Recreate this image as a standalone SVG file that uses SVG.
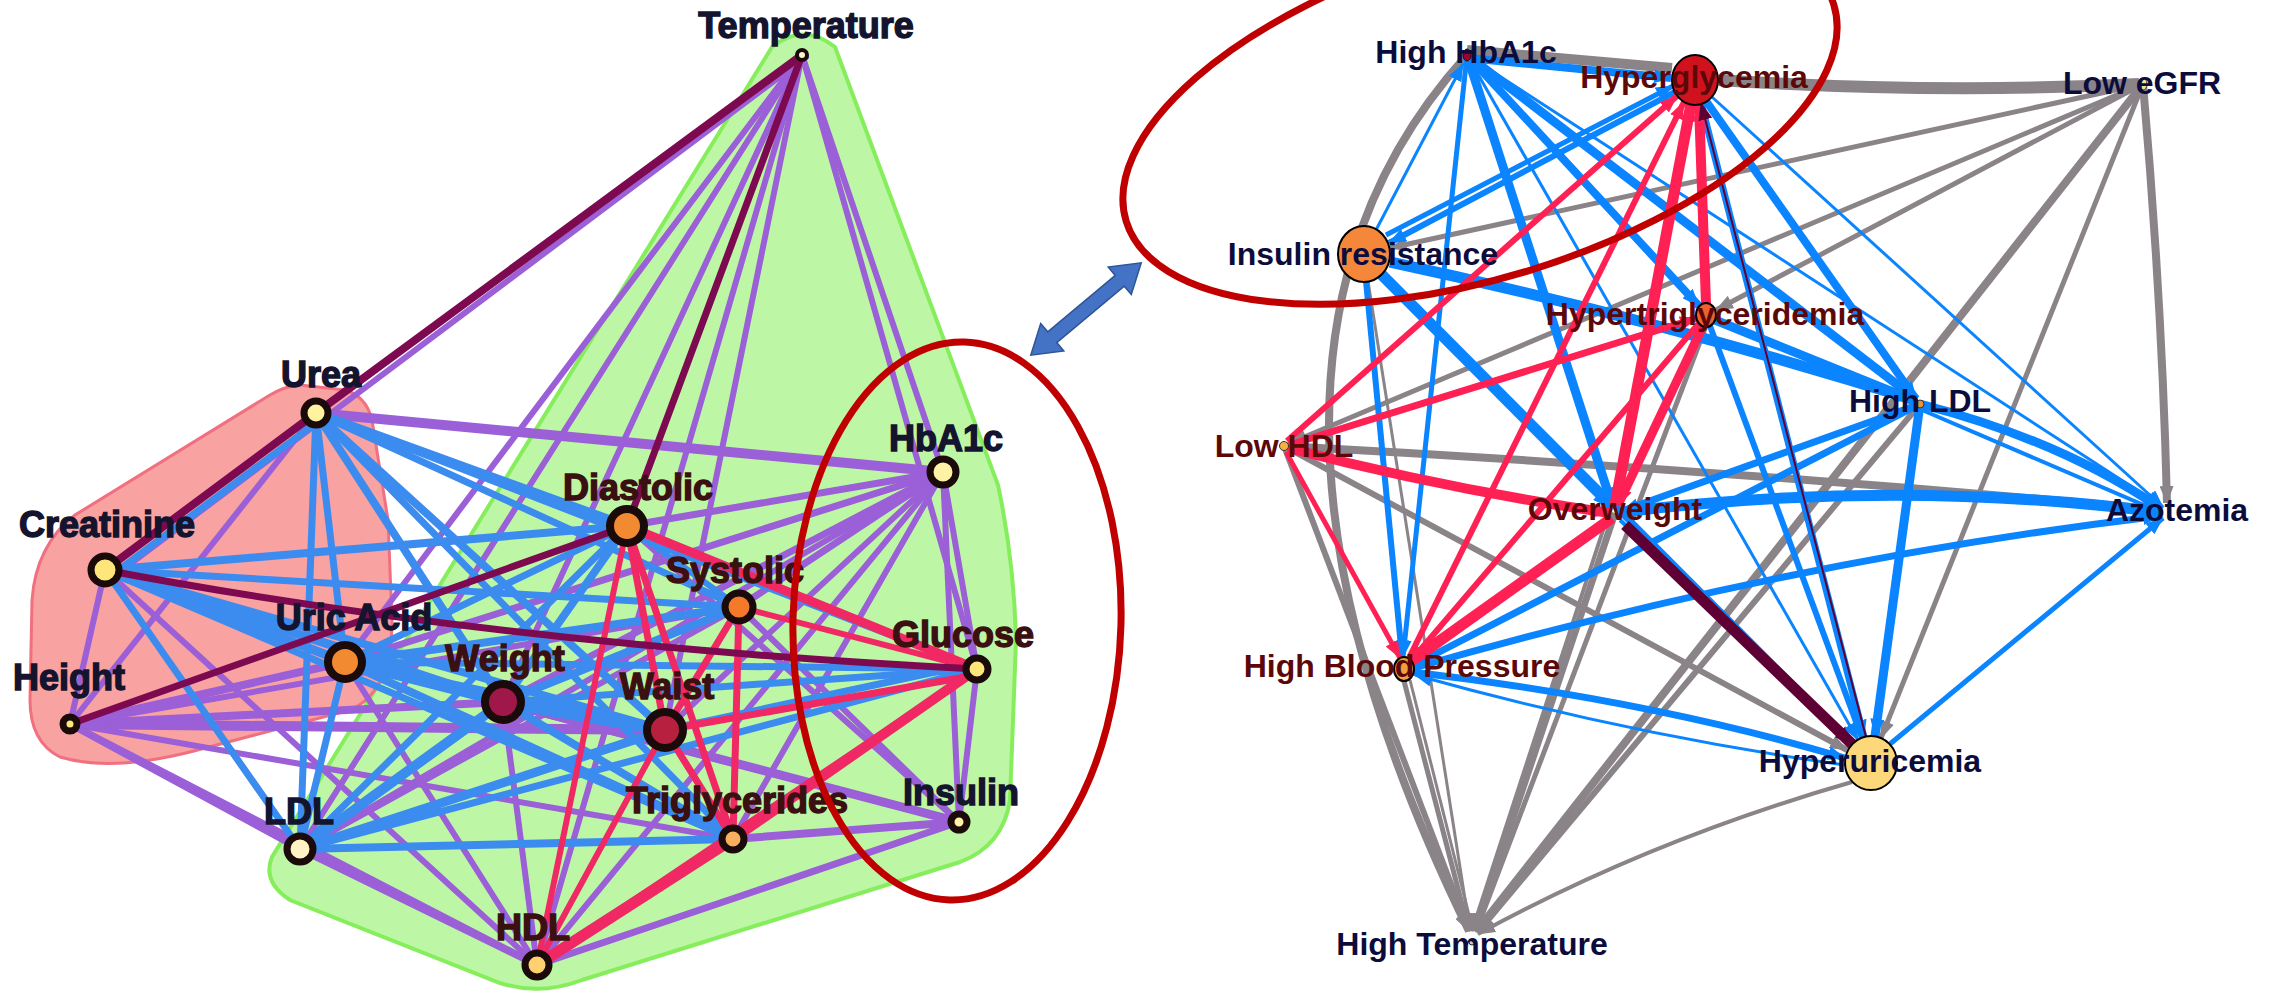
<svg xmlns="http://www.w3.org/2000/svg" width="2274" height="991" viewBox="0 0 2274 991">
<style>
.lp{stroke:#9b5fd7;fill:none;stroke-linecap:round}
.lb{stroke:#3c8cf0;fill:none;stroke-linecap:round}
.lr{stroke:#f02864;fill:none;stroke-linecap:round}
.lm{stroke:#7d0a50;fill:none;stroke-linecap:round}
.g{stroke:#8a8488;fill:none;marker-end:url(#ah-g)}
.b{stroke:#0a84ff;fill:none;marker-end:url(#ah-b)}
.r{stroke:#ff2153;fill:none;marker-end:url(#ah-r)}
.m{stroke:#5f0035;fill:none;marker-end:url(#ah-m)}
.ln{stroke:#1a0a0a}
.tl{font-family:"Liberation Sans",Arial,Helvetica,sans-serif;font-weight:bold;font-size:36px;text-anchor:middle;stroke-width:1.4}
.tn{fill:#14142e;stroke:#14142e}
.tbr{fill:#3a1010;stroke:#3a1010}
.tr{font-family:"Liberation Sans",Arial,Helvetica,sans-serif;font-weight:bold;font-size:32px;text-anchor:middle}
.rn{fill:#0c0c3c}
.rd{fill:#5c0808}
.rnode{stroke:#000;stroke-width:2}
</style>
<defs>
<marker id="ah-g" viewBox="0 0 18 14" refX="17" refY="7" markerWidth="18" markerHeight="14" markerUnits="userSpaceOnUse" orient="auto"><path d="M0,0 L18,7 L0,14 z" fill="#8a8488"/></marker>
<marker id="ah-b" viewBox="0 0 18 14" refX="17" refY="7" markerWidth="18" markerHeight="14" markerUnits="userSpaceOnUse" orient="auto"><path d="M0,0 L18,7 L0,14 z" fill="#0a84ff"/></marker>
<marker id="ah-r" viewBox="0 0 18 14" refX="17" refY="7" markerWidth="18" markerHeight="14" markerUnits="userSpaceOnUse" orient="auto"><path d="M0,0 L18,7 L0,14 z" fill="#ff2153"/></marker>
<marker id="ah-m" viewBox="0 0 18 14" refX="17" refY="7" markerWidth="18" markerHeight="14" markerUnits="userSpaceOnUse" orient="auto"><path d="M0,0 L18,7 L0,14 z" fill="#5f0035"/></marker>
</defs>
<rect width="2274" height="991" fill="#ffffff"/>

<!-- cluster hulls -->
<path id="hull-green" d="M772,47 L272,857 Q262,882 290,900 L500,983 Q540,996 582,980 L960,862 Q1003,846 1010,800 L1016,640 Q1014,560 998,485 L835,47 Q803,22 772,47 Z" fill="#bdf7a6" stroke="#86ee5c" stroke-width="4"/>
<path id="hull-red" d="M300,385 L345,390 Q366,396 372,420 L388,520 L392,620 Q392,692 350,710 L190,752 Q110,772 60,757 Q30,742 30,700 L32,600 Q36,545 75,515 L270,395 Q285,386 300,385 Z" fill="#f8a2a2" stroke="#f07080" stroke-width="3"/>

<g id="connectors-left">
<!-- purple -->
<line class="lp" x1="806" y1="57" x2="114" y2="576" stroke-width="6"/>
<line class="lp" x1="802" y1="55" x2="345" y2="662" stroke-width="6"/>
<line class="lp" x1="802" y1="55" x2="300" y2="849" stroke-width="6"/>
<line class="lp" x1="802" y1="55" x2="503" y2="702" stroke-width="6"/>
<line class="lp" x1="802" y1="55" x2="537" y2="965" stroke-width="6"/>
<line class="lp" x1="802" y1="55" x2="665" y2="730" stroke-width="6"/>
<line class="lp" x1="802" y1="55" x2="977" y2="669" stroke-width="6"/>
<line class="lp" x1="802" y1="55" x2="943" y2="472" stroke-width="6"/>
<line class="lp" x1="316" y1="413" x2="943" y2="472" stroke-width="10"/>
<line class="lp" x1="316" y1="413" x2="70" y2="724" stroke-width="6"/>
<line class="lp" x1="105" y1="570" x2="70" y2="724" stroke-width="6"/>
<line class="lp" x1="105" y1="570" x2="537" y2="965" stroke-width="6"/>
<line class="lp" x1="70" y1="724" x2="665" y2="730" stroke-width="10"/>
<line class="lp" x1="70" y1="724" x2="503" y2="702" stroke-width="8"/>
<line class="lp" x1="70" y1="724" x2="345" y2="662" stroke-width="8"/>
<line class="lp" x1="70" y1="724" x2="739" y2="607" stroke-width="6"/>
<line class="lp" x1="70" y1="724" x2="733" y2="839" stroke-width="6"/>
<line class="lp" x1="70" y1="724" x2="300" y2="849" stroke-width="7"/>
<line class="lp" x1="70" y1="724" x2="537" y2="965" stroke-width="7"/>
<line class="lp" x1="300" y1="849" x2="537" y2="965" stroke-width="7"/>
<line class="lp" x1="300" y1="849" x2="739" y2="607" stroke-width="6"/>
<line class="lp" x1="943" y1="472" x2="627" y2="526" stroke-width="7"/>
<line class="lp" x1="943" y1="472" x2="739" y2="607" stroke-width="7"/>
<line class="lp" x1="943" y1="472" x2="503" y2="702" stroke-width="7"/>
<line class="lp" x1="943" y1="472" x2="665" y2="730" stroke-width="6"/>
<line class="lp" x1="943" y1="472" x2="977" y2="669" stroke-width="6"/>
<line class="lp" x1="943" y1="472" x2="959" y2="822" stroke-width="6"/>
<line class="lp" x1="943" y1="472" x2="733" y2="839" stroke-width="6"/>
<line class="lp" x1="943" y1="472" x2="537" y2="965" stroke-width="6"/>
<line class="lp" x1="943" y1="472" x2="300" y2="849" stroke-width="6"/>
<line class="lp" x1="943" y1="472" x2="345" y2="662" stroke-width="7"/>
<line class="lp" x1="977" y1="669" x2="959" y2="822" stroke-width="6"/>
<line class="lp" x1="959" y1="822" x2="733" y2="839" stroke-width="8"/>
<line class="lp" x1="959" y1="822" x2="537" y2="965" stroke-width="7"/>
<line class="lp" x1="959" y1="822" x2="503" y2="702" stroke-width="9"/>
<line class="lp" x1="959" y1="822" x2="627" y2="526" stroke-width="6"/>
<line class="lp" x1="959" y1="822" x2="739" y2="607" stroke-width="6"/>
<line class="lp" x1="959" y1="822" x2="345" y2="662" stroke-width="7"/>
<line class="lp" x1="503" y1="702" x2="537" y2="965" stroke-width="6"/>
<line class="lp" x1="345" y1="662" x2="537" y2="965" stroke-width="6"/>
<!-- blue -->
<line class="lb" x1="320" y1="420" x2="112" y2="575" stroke-width="7"/>
<line class="lb" x1="316" y1="413" x2="345" y2="662" stroke-width="7"/>
<line class="lb" x1="316" y1="413" x2="300" y2="849" stroke-width="7"/>
<line class="lb" x1="316" y1="413" x2="503" y2="702" stroke-width="8"/>
<line class="lb" x1="316" y1="413" x2="627" y2="526" stroke-width="9"/>
<line class="lb" x1="316" y1="413" x2="739" y2="607" stroke-width="7"/>
<line class="lb" x1="316" y1="413" x2="665" y2="730" stroke-width="8"/>
<line class="lb" x1="316" y1="413" x2="733" y2="839" stroke-width="7"/>
<line class="lb" x1="316" y1="413" x2="977" y2="669" stroke-width="6"/>
<line class="lb" x1="105" y1="570" x2="627" y2="526" stroke-width="8"/>
<line class="lb" x1="105" y1="570" x2="739" y2="607" stroke-width="7"/>
<line class="lb" x1="105" y1="570" x2="503" y2="702" stroke-width="9"/>
<line class="lb" x1="105" y1="570" x2="665" y2="730" stroke-width="8"/>
<line class="lb" x1="105" y1="570" x2="345" y2="662" stroke-width="9"/>
<line class="lb" x1="105" y1="570" x2="733" y2="839" stroke-width="7"/>
<line class="lb" x1="105" y1="570" x2="300" y2="849" stroke-width="7"/>
<line class="lb" x1="345" y1="662" x2="627" y2="526" stroke-width="7"/>
<line class="lb" x1="345" y1="662" x2="739" y2="607" stroke-width="8"/>
<line class="lb" x1="345" y1="662" x2="503" y2="702" stroke-width="10"/>
<line class="lb" x1="345" y1="662" x2="665" y2="730" stroke-width="9"/>
<line class="lb" x1="345" y1="662" x2="977" y2="669" stroke-width="7"/>
<line class="lb" x1="345" y1="662" x2="733" y2="839" stroke-width="8"/>
<line class="lb" x1="345" y1="662" x2="300" y2="849" stroke-width="7"/>
<line class="lb" x1="503" y1="702" x2="627" y2="526" stroke-width="8"/>
<line class="lb" x1="503" y1="702" x2="739" y2="607" stroke-width="8"/>
<line class="lb" x1="503" y1="702" x2="665" y2="730" stroke-width="12"/>
<line class="lb" x1="503" y1="702" x2="977" y2="669" stroke-width="7"/>
<line class="lb" x1="503" y1="702" x2="733" y2="839" stroke-width="8"/>
<line class="lb" x1="503" y1="702" x2="300" y2="849" stroke-width="10"/>
<line class="lb" x1="300" y1="849" x2="627" y2="526" stroke-width="7"/>
<line class="lb" x1="300" y1="849" x2="977" y2="669" stroke-width="7"/>
<line class="lb" x1="300" y1="849" x2="733" y2="839" stroke-width="8"/>
<line class="lb" x1="300" y1="849" x2="665" y2="730" stroke-width="9"/>
<line class="lb" x1="665" y1="730" x2="977" y2="663" stroke-width="7"/>
<line class="lb" x1="627" y1="526" x2="739" y2="607" stroke-width="6"/>
<!-- pink -->
<line class="lr" x1="627" y1="526" x2="665" y2="730" stroke-width="7"/>
<line class="lr" x1="627" y1="526" x2="733" y2="839" stroke-width="7"/>
<line class="lr" x1="627" y1="526" x2="977" y2="669" stroke-width="9"/>
<line class="lr" x1="627" y1="526" x2="537" y2="965" stroke-width="6"/>
<line class="lr" x1="739" y1="607" x2="733" y2="839" stroke-width="7"/>
<line class="lr" x1="739" y1="607" x2="665" y2="730" stroke-width="7"/>
<line class="lr" x1="739" y1="607" x2="977" y2="669" stroke-width="6"/>
<line class="lr" x1="665" y1="730" x2="977" y2="675" stroke-width="7"/>
<line class="lr" x1="665" y1="730" x2="733" y2="839" stroke-width="7"/>
<line class="lr" x1="733" y1="839" x2="977" y2="669" stroke-width="10"/>
<line class="lr" x1="733" y1="839" x2="537" y2="965" stroke-width="11"/>
<line class="lr" x1="537" y1="965" x2="665" y2="730" stroke-width="6"/>
<line class="lr" x1="537" y1="965" x2="977" y2="669" stroke-width="6"/>
<!-- maroon -->
<line class="lm" x1="802" y1="55" x2="316" y2="413" stroke-width="8"/>
<line class="lm" x1="316" y1="413" x2="105" y2="570" stroke-width="8"/>
<line class="lm" x1="802" y1="55" x2="627" y2="526" stroke-width="7"/>
<line class="lm" x1="70" y1="724" x2="627" y2="526" stroke-width="7"/>
<path class="lm" d="M105,570 Q500,645 977,669" stroke-width="7"/>
</g>

<g id="nodes-left">
<g id="n-temperature"><circle class="ln" cx="802" cy="55" r="5" fill="#fff6c8" stroke-width="4"/><text class="tl tn" x="806" y="38">Temperature</text></g>
<g id="n-urea"><circle class="ln" cx="316" cy="413" r="12" fill="#fff3a0" stroke-width="7"/><text class="tl tn" x="321" y="387">Urea</text></g>
<g id="n-hba1c"><circle class="ln" cx="943" cy="472" r="13" fill="#fff2a4" stroke-width="7"/><text class="tl tn" x="946" y="451">HbA1c</text></g>
<g id="n-creatinine"><circle class="ln" cx="105" cy="570" r="14" fill="#ffe67a" stroke-width="7"/><text class="tl tn" x="107" y="537">Creatinine</text></g>
<g id="n-diastolic"><circle class="ln" cx="627" cy="526" r="17" fill="#f28a32" stroke-width="8"/><text class="tl tbr" x="638" y="500">Diastolic</text></g>
<g id="n-systolic"><circle class="ln" cx="739" cy="607" r="14" fill="#f47a2a" stroke-width="7"/><text class="tl tbr" x="735" y="583">Systolic</text></g>
<g id="n-uricacid"><circle class="ln" cx="345" cy="662" r="17" fill="#f28a32" stroke-width="8"/><text class="tl tn" x="354" y="630">Uric Acid</text></g>
<g id="n-weight"><circle class="ln" cx="503" cy="702" r="18" fill="#a0184a" stroke-width="8"/><text class="tl tbr" x="505" y="671">Weight</text></g>
<g id="n-waist"><circle class="ln" cx="665" cy="730" r="18" fill="#b82040" stroke-width="8"/><text class="tl tbr" x="667" y="699">Waist</text></g>
<g id="n-glucose"><circle class="ln" cx="977" cy="669" r="11" fill="#ffe67a" stroke-width="7"/><text class="tl tbr" x="963" y="647">Glucose</text></g>
<g id="n-height"><circle class="ln" cx="70" cy="724" r="7" fill="#ffe67a" stroke-width="7"/><text class="tl tn" x="69" y="690">Height</text></g>
<g id="n-ldl"><circle class="ln" cx="300" cy="849" r="13" fill="#fff3c4" stroke-width="7"/><text class="tl tn" x="299" y="824">LDL</text></g>
<g id="n-triglycerides"><circle class="ln" cx="733" cy="839" r="11" fill="#f8b060" stroke-width="7"/><text class="tl tbr" x="737" y="813">Triglycerides</text></g>
<g id="n-insulin"><circle class="ln" cx="959" cy="822" r="8" fill="#fff2a4" stroke-width="7"/><text class="tl tn" x="961" y="805">Insulin</text></g>
<g id="n-hdl"><circle class="ln" cx="537" cy="965" r="12" fill="#ffd070" stroke-width="7"/><text class="tl tbr" x="533" y="940">HDL</text></g>
</g>

<g id="connectors-right">
<!-- gray -->
<path class="g" d="M1467,50 L1672,68" stroke-width="10" style="marker-end:none"/>
<path class="g" d="M1719,80 Q1930,94 2139,84" stroke-width="12" style="marker-end:none"/>
<path class="g" d="M2143,84 L1390,248" stroke-width="5"/>
<path class="g" d="M2143,84 L1290,443" stroke-width="5"/>
<path class="g" d="M2143,84 L1716,310" stroke-width="5"/>
<path class="g" d="M2143,84 Q2162,300 2167,503" stroke-width="8"/>
<path class="g" d="M2143,84 L1476,932" stroke-width="8"/>
<path class="g" d="M2143,84 L1881,738" stroke-width="5"/>
<path class="g" d="M1284,446 Q1730,470 2162,510" stroke-width="8"/>
<path class="g" d="M1284,446 L1469,931" stroke-width="6"/>
<path class="g" d="M1284,446 L1847,750" stroke-width="6"/>
<path class="g" d="M1467,55 Q1190,360 1469,931" stroke-width="8"/>
<path class="g" d="M1368,281 L1470,931" stroke-width="3"/>
<path class="g" d="M1615,513 L1475,931" stroke-width="7"/>
<path class="g" d="M1608,515 L1472,931" stroke-width="4"/>
<path class="g" d="M1706,326 L1476,931" stroke-width="5"/>
<path class="g" d="M1920,404 L1478,932" stroke-width="6"/>
<path class="g" d="M1852,782 Q1650,840 1478,934" stroke-width="4"/>
<path class="g" d="M1404,681 L1469,931" stroke-width="5"/>
<path class="g" d="M1410,680 L1473,931" stroke-width="3"/>
<path class="g" d="M1706,315 L1290,444" stroke-width="5"/>
<!-- blue -->
<path class="b" d="M1467,58 L1671,78" stroke-width="8"/>
<path class="b" d="M1376,230 L1463,64" stroke-width="3"/>
<path class="b" d="M1675,92 L1389,243" stroke-width="6"/>
<path class="b" d="M1386,235 L1673,86" stroke-width="5"/>
<path class="b" d="M1467,55 L1403,657" stroke-width="5"/>
<path class="b" d="M1366,281 L1402,657" stroke-width="6"/>
<path class="b" d="M1467,55 L1612,505" stroke-width="9"/>
<path class="b" d="M1467,55 L1916,399" stroke-width="9"/>
<path class="b" d="M1467,55 L2163,507" stroke-width="3"/>
<path class="b" d="M1467,55 L1699,306" stroke-width="8"/>
<path class="b" d="M1467,55 L1858,740" stroke-width="3"/>
<path class="b" d="M1706,101 L1916,399" stroke-width="8"/>
<path class="b" d="M1712,97 L2163,507" stroke-width="3"/>
<path class="b" d="M1701,103 L1864,737" stroke-width="7"/>
<path class="b" d="M1390,262 Q1660,320 1915,400" stroke-width="11"/>
<path class="b" d="M1383,273 L1852,744" stroke-width="7"/>
<path class="b" d="M1380,276 L1610,507" stroke-width="7"/>
<path class="b" d="M1920,404 Q2060,440 2160,508" stroke-width="9"/>
<path class="b" d="M1922,410 L2160,512" stroke-width="4"/>
<path class="b" d="M1615,513 Q1890,478 2160,512" stroke-width="11"/>
<path class="b" d="M1414,668 Q1790,560 2160,516" stroke-width="7"/>
<path class="b" d="M1890,744 L2163,518" stroke-width="5"/>
<path class="b" d="M1920,404 L1875,736" stroke-width="9"/>
<path class="b" d="M1920,404 L1414,665" stroke-width="7"/>
<path class="b" d="M1920,404 L1622,511" stroke-width="7"/>
<path class="b" d="M1412,672 Q1650,700 1845,758" stroke-width="7"/>
<path class="b" d="M1845,765 Q1630,735 1415,675" stroke-width="3"/>
<path class="b" d="M1620,520 L1853,743" stroke-width="4"/>
<path class="b" d="M1715,320 L1915,401" stroke-width="9"/>
<path class="b" d="M1710,326 L1862,738" stroke-width="6"/>
<!-- red -->
<path class="r" d="M1287,441 L1677,96" stroke-width="6"/>
<path class="r" d="M1615,505 L1691,104" stroke-width="11"/>
<path class="r" d="M1408,660 L1684,102" stroke-width="6"/>
<path class="r" d="M1706,304 L1699,104" stroke-width="10"/>
<path class="r" d="M1286,452 L1400,658" stroke-width="5"/>
<path class="r" d="M1612,518 L1410,662" stroke-width="11"/>
<path class="r" d="M1700,322 L1410,662" stroke-width="6"/>
<path class="r" d="M1288,448 Q1450,490 1610,513" stroke-width="10"/>
<path class="r" d="M1289,445 L1697,318" stroke-width="7"/>
<path class="r" d="M1703,326 L1618,505" stroke-width="9"/>
<path class="r" d="M1690,104 L1617,505" stroke-width="7"/>
<!-- maroon -->
<path class="m" d="M1625,525 L1852,744" stroke-width="11"/>
<path class="m" d="M1866,737 L1701,103" stroke-width="2"/>
</g>

<g id="nodes-right">
<g id="r-highhba1c"><ellipse cx="1467" cy="55" rx="4" ry="6" fill="#a00030" stroke="#300" stroke-width="1"/><text class="tr rn" x="1466" y="63">High HbA1c</text></g>
<g id="r-hyperglycemia"><ellipse class="rnode" cx="1695" cy="80" rx="23" ry="25" fill="#d0121f"/><text class="tr rd" x="1694" y="88">Hyperglycemia</text></g>
<g id="r-lowegfr"><ellipse cx="2143" cy="84" rx="4" ry="6" fill="#f0e890" stroke="#333" stroke-width="1"/><text class="tr rn" x="2142" y="94">Low eGFR</text></g>
<g id="r-insulinresistance"><ellipse class="rnode" cx="1364" cy="254" rx="26" ry="28" fill="#f5873a"/><text class="tr rn" x="1363" y="265">Insulin resistance</text></g>
<g id="r-hypertriglyceridemia"><ellipse class="rnode" cx="1706" cy="315" rx="10" ry="12" fill="#f06030" stroke-width="1.5"/><text class="tr rd" x="1705" y="325">Hypertriglyceridemia</text></g>
<g id="r-highldl"><circle cx="1920" cy="404" r="4" fill="#f09030" stroke="#333" stroke-width="1"/><text class="tr rn" x="1920" y="412">High LDL</text></g>
<g id="r-lowhdl"><circle cx="1284" cy="446" r="4.5" fill="#f5b040" stroke="#333" stroke-width="1"/><text class="tr rd" x="1284" y="457">Low HDL</text></g>
<g id="r-overweight"><text class="tr rd" x="1615" y="520">Overweight</text></g>
<g id="r-azotemia"><text class="tr rn" x="2177" y="521">Azotemia</text></g>
<g id="r-highbp"><ellipse class="rnode" cx="1404" cy="669" rx="10" ry="12" fill="#f0a040" stroke-width="1.5"/><text class="tr rd" x="1402" y="677">High Blood Pressure</text></g>
<g id="r-hyperuricemia"><ellipse class="rnode" cx="1871" cy="763" rx="26" ry="27" fill="#fcd87a"/><text class="tr rn" x="1870" y="772">Hyperuricemia</text></g>
<g id="r-hightemp"><circle cx="1472" cy="942" r="3" fill="#ccc" stroke="#222" stroke-width="1"/><text class="tr rn" x="1472" y="955">High Temperature</text></g>
</g>

<!-- highlight ellipses and link arrow -->
<ellipse cx="957" cy="621" rx="164" ry="279" transform="rotate(1.5 957 621)" fill="none" stroke="#c00000" stroke-width="7"/>
<ellipse cx="1480" cy="113" rx="370" ry="165" transform="rotate(-17 1480 113)" fill="none" stroke="#c00000" stroke-width="7"/>
<g transform="translate(1086,309) rotate(-39.9)">
<polygon points="-72,0 -44,-18 -44,-7 44,-7 44,-18 72,0 44,18 44,7 -44,7 -44,18" fill="#4472c4" stroke="#2f5597" stroke-width="1.5"/>
</g>
</svg>
